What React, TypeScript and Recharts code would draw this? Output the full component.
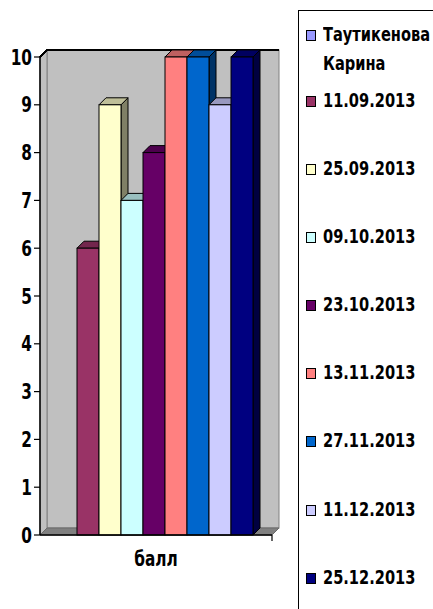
import React from "react";
import { BarChart, Bar, XAxis, YAxis, ReferenceArea } from "recharts";

const categories = ["балл"];
const seriesNames = [
  "Таутикенова Карина",
  "11.09.2013",
  "25.09.2013",
  "09.10.2013",
  "23.10.2013",
  "13.11.2013",
  "27.11.2013",
  "11.12.2013",
  "25.12.2013",
];
const seriesValues = [0, 6, 9, 7, 8, 10, 10, 9, 10];
const seriesColors = [
  "#9999FF",
  "#993366",
  "#FFFFCC",
  "#CCFFFF",
  "#660066",
  "#FF8080",
  "#0066CC",
  "#CCCCFF",
  "#000080",
];
const yTicks = [0, 1, 2, 3, 4, 5, 6, 7, 8, 9, 10];

const data = categories.map((name) => {
  const row: Record<string, any> = { name };
  seriesNames.forEach((_, i) => {
    row["s" + i] = seriesValues[i];
  });
  return row;
});

const FONT = "'DejaVu Sans', sans-serif";
const SX = 0.73;
const D = 7;

function shade(hex: string, f: number) {
  const n = parseInt(hex.slice(1), 16);
  const r = Math.round(((n >> 16) & 255) * f);
  const g = Math.round(((n >> 8) & 255) * f);
  const b = Math.round((n & 255) * f);
  return `rgb(${r},${g},${b})`;
}

const Bar3D = (p: any) => {
  const { x, y, width: w, height: h, fill } = p;
  if (!h || h <= 0) return <g />;
  return (
    <g>
      <polygon
        points={`${x + w},${y} ${x + w + D},${y - D} ${x + w + D},${y + h - D} ${x + w},${y + h}`}
        fill={shade(fill, 0.5)}
        stroke="#000"
        strokeWidth={1}
      />
      <polygon
        points={`${x},${y} ${x + D},${y - D} ${x + w + D},${y - D} ${x + w},${y}`}
        fill={shade(fill, 0.75)}
        stroke="#000"
        strokeWidth={1}
      />
      <rect x={x} y={y} width={w} height={h} fill={fill} stroke="#000" strokeWidth={1} />
    </g>
  );
};

const Walls = (p: any) => {
  const { x, y, width: w, height: h } = p;
  const b = y + h;
  return (
    <g>
      <rect x={x + D} y={y - D} width={w} height={h} fill="#C0C0C0" stroke="#808080" strokeWidth={1} />
      <polygon
        points={`${x},${y} ${x + D},${y - D} ${x + D},${b - D} ${x},${b}`}
        fill="#C0C0C0"
        stroke="#808080"
        strokeWidth={1}
      />
      <polygon
        points={`${x},${b} ${x + D},${b - D} ${x + w + D},${b - D} ${x + w},${b}`}
        fill="#808080"
        stroke="#6a6a6a"
        strokeWidth={1}
      />
      <line x1={x + w} y1={b} x2={x + w} y2={b + 6} stroke="#000" strokeWidth={1.2} />
    </g>
  );
};

const GridLine = (p: any) => {
  const { x, y, width: w } = p;
  return (
    <polyline
      points={`${x},${y} ${x + D},${y - D} ${x + w + D},${y - D}`}
      fill="none"
      stroke="#000"
      strokeWidth={1.6}
    />
  );
};

const XTick = (p: any) => {
  const { x, y, payload } = p;
  return (
    <g transform={`translate(${x},${y}) scale(${SX},1)`}>
      <text x={0} y={0} dy={23} textAnchor="middle" fontFamily={FONT} fontWeight="bold" fontSize={21} fill="#000">
        {payload.value}
      </text>
    </g>
  );
};

const YTick = (p: any) => {
  const { x, y, payload } = p;
  return (
    <g transform={`translate(${x},${y}) scale(${SX},1)`}>
      <text x={0} y={0} dy={7.5} textAnchor="end" fontFamily={FONT} fontWeight="bold" fontSize={21} fill="#000">
        {payload.value}
      </text>
    </g>
  );
};

export default function App() {
  return (
    <div
      style={{
        position: "absolute",
        left: 0,
        top: 0,
        width: 433,
        height: 609,
        overflow: "hidden",
        background: "#fff",
      }}
    >
      <BarChart
        width={433}
        height={609}
        data={data}
        margin={{ top: 57, right: 161, bottom: 44, left: 6 }}
        barGap={0}
        barCategoryGap={15}
      >
        <XAxis
          dataKey="name"
          tickLine={false}
          axisLine={{ stroke: "#000", strokeWidth: 1.5 }}
          tick={<XTick />}
          height={30}
        />
        <YAxis
          domain={[0, 10]}
          ticks={yTicks}
          interval={0}
          width={34}
          axisLine={{ stroke: "#000", strokeWidth: 1.5 }}
          tickLine={{ stroke: "#000", strokeWidth: 1.2 }}
          tickSize={6}
          tick={<YTick />}
        />
        <ReferenceArea y1={0} y2={10} shape={(p: any) => <Walls {...p} />} />
        {yTicks.slice(1, 10).map((t) => (
          <ReferenceArea key={"g" + t} y1={t} y2={10} shape={(p: any) => <GridLine {...p} />} />
        ))}
        {seriesNames.map((n, i) => (
          <Bar
            key={n}
            dataKey={"s" + i}
            name={n}
            fill={seriesColors[i]}
            isAnimationActive={false}
            shape={(p: any) => <Bar3D {...p} fill={seriesColors[i]} />}
          />
        ))}
      </BarChart>
      <div
        style={{
          position: "absolute",
          left: 298,
          top: 10,
          width: 160,
          height: 640,
          borderLeft: "1.5px solid #000",
          borderTop: "1.5px solid #000",
          boxSizing: "border-box",
          paddingTop: 9,
          fontFamily: FONT,
          fontWeight: "bold",
          fontSize: 20,
          color: "#000",
        }}
      >
        {seriesNames.map((n, i) => (
          <div
            key={n}
            style={{
              position: "relative",
              marginTop: i === 0 ? 0 : i === 1 ? 8 : 39.1,
              height: i === 0 ? 58 : 29,
            }}
          >
            <span
              style={{
                position: "absolute",
                left: 7,
                top: 10,
                width: 8,
                height: 9,
                background: seriesColors[i],
                border: "1px solid #000",
              }}
            />
            <div
              style={{
                position: "absolute",
                left: 24,
                top: 0,
                width: 150,
                lineHeight: "29px",
                transform: `scaleX(${SX})`,
                transformOrigin: "0 0",
              }}
            >
              {n}
            </div>
          </div>
        ))}
      </div>
    </div>
  );
}
